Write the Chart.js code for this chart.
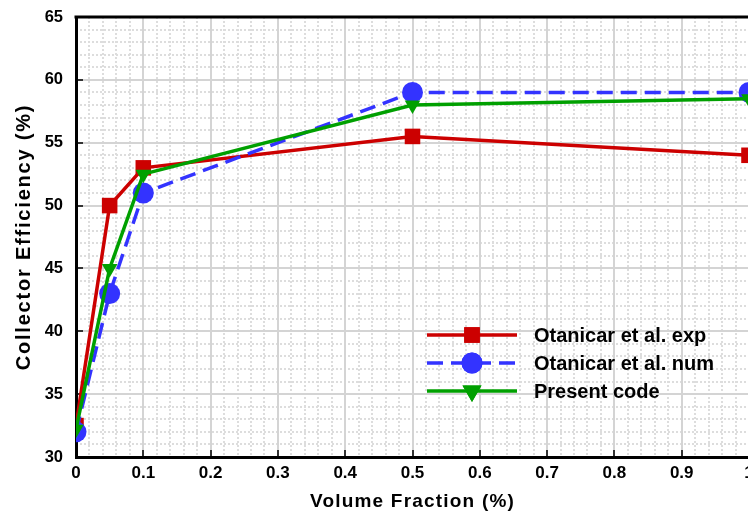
<!DOCTYPE html>
<html>
<head>
<meta charset="utf-8">
<script src="https://cdn.jsdelivr.net/npm/chart.js@4/dist/chart.umd.min.js"></script>
<style>
  html, body { margin: 0; padding: 0; background: #fff; overflow: hidden; }
  #wrap { width: 760px; height: 516px; }
</style>
</head>
<body>
<div id="wrap"><canvas id="effChart" width="760" height="516"></canvas></div>
<script>
// data
const volumeFraction = [0, 0.05, 0.1, 0.5, 1];
const expValues = [32.5, 50, 53, 55.5, 54];
const numValues = [32, 43, 51, 59, 59];
const presentValues = [32.2, 45, 52.5, 58, 58.5];
const xTicks = [0, 0.1, 0.2, 0.3, 0.4, 0.5, 0.6, 0.7, 0.8, 0.9, 1];
const yTicks = [30, 35, 40, 45, 50, 55, 60, 65];

const seriesNames = ["Otanicar et al. exp", "Otanicar et al. num", "Present code"];
const RED = '#cc0000', BLUE = '#3333ff', GREEN = '#00a000';
const FONT = "'Liberation Sans', Arial, sans-serif";

function pts(vals) {
  return volumeFraction.map((x, i) => ({ x: x, y: vals[i] }));
}

// keep the plot box fixed: no extra room for overhanging tick labels
function noOverhang(s) {
  s.paddingTop = 0; s.paddingBottom = 0;
  s.paddingLeft = 0; s.paddingRight = 0;
}

// frame top edge, axis titles and the legend inside the plot
const extras = {
  id: 'extras',
  afterDraw(chart) {
    const ctx = chart.ctx;
    const a = chart.chartArea;
    ctx.save();
    ctx.strokeStyle = '#000';
    ctx.lineWidth = 3;
    ctx.beginPath();
    ctx.moveTo(a.left - 1.5, a.top);
    ctx.lineTo(a.right + 2, a.top);
    ctx.stroke();

    ctx.fillStyle = '#000';
    ctx.textAlign = 'center';
    ctx.textBaseline = 'middle';
    ctx.font = "bold 19px " + FONT;
    ctx.letterSpacing = '1.2px';
    ctx.fillText('Volume Fraction (%)', (a.left + a.right) / 2, 502);
    ctx.save();
    ctx.translate(24, (a.top + a.bottom) / 2);
    ctx.rotate(-Math.PI / 2);
    ctx.font = "bold 20px " + FONT;
    ctx.letterSpacing = '1.8px';
    ctx.fillText('Collector Efficiency (%)', 0, 0);
    ctx.restore();
    ctx.letterSpacing = '0px';
    ctx.restore();
  },
  afterDatasetsDraw(chart) {
    const ctx = chart.ctx;
    const rows = [
      { y: 335, color: RED, dash: [], style: 'rect', r: 11, rot: 0 },
      { y: 363, color: BLUE, dash: [16, 8], style: 'circle', r: 10.5, rot: 0 },
      { y: 391, color: GREEN, dash: [], style: 'triangle', r: 11, rot: 180 }
    ];
    ctx.save();
    rows.forEach((row, i) => {
      ctx.strokeStyle = row.color;
      ctx.lineWidth = 3.5;
      ctx.setLineDash(row.dash);
      ctx.beginPath();
      ctx.moveTo(427, row.y);
      ctx.lineTo(517, row.y);
      ctx.stroke();
      ctx.setLineDash([]);
      ctx.fillStyle = row.color;
      Chart.helpers.drawPoint(ctx, { pointStyle: row.style, radius: row.r, rotation: row.rot, borderWidth: 0 }, 472, row.y);
      ctx.fill();
      ctx.fillStyle = '#000';
      ctx.font = "bold 20px " + FONT;
      ctx.textBaseline = 'middle';
      ctx.textAlign = 'left';
      ctx.fillText(seriesNames[i], 534, row.y + 1);
    });
    ctx.restore();
  }
};

const ctx = document.getElementById('effChart').getContext('2d');
const effChart = new Chart(ctx, {
  type: 'line',
  data: {
    datasets: [
      {
        label: seriesNames[0],
        data: pts(expValues),
        borderColor: RED,
        backgroundColor: RED,
        borderWidth: 3.5,
        pointStyle: 'rect',
        pointRadius: 11,
        pointBorderWidth: 0,
        order: 3
      },
      {
        label: seriesNames[1],
        data: pts(numValues),
        borderColor: BLUE,
        backgroundColor: BLUE,
        borderWidth: 3.5,
        borderDash: [16, 8],
        pointStyle: 'circle',
        pointRadius: 10.5,
        pointBorderWidth: 0,
        order: 2
      },
      {
        label: seriesNames[2],
        data: pts(presentValues),
        borderColor: GREEN,
        backgroundColor: GREEN,
        borderWidth: 3.5,
        pointStyle: 'triangle',
        pointRotation: 180,
        pointRadius: 9,
        pointBorderWidth: 0,
        order: 1
      }
    ]
  },
  options: {
    responsive: false,
    animation: false,
    devicePixelRatio: 1,
    layout: { padding: { left: 0, top: 17, right: 11, bottom: 0 } },
    plugins: {
      legend: { display: false },
      tooltip: { enabled: false }
    },
    scales: {
      xMinor: {
        type: 'linear', position: 'bottom', min: 0, max: 1,
        ticks: { display: false, stepSize: 0.02 },
        grid: { color: '#dddddd', lineWidth: 2, drawTicks: false },
        border: { display: false, dash: [2, 2] },
        afterFit(s) { s.height = 0; noOverhang(s); }
      },
      yMinor: {
        type: 'linear', position: 'left', min: 30, max: 65,
        ticks: { display: false, stepSize: 1 },
        grid: { color: '#dddddd', lineWidth: 2, drawTicks: false },
        border: { display: false, dash: [2, 2] },
        afterFit(s) { s.width = 0; noOverhang(s); }
      },
      x: {
        type: 'linear', position: 'bottom', min: 0, max: 1,
        afterBuildTicks(s) { s.ticks = xTicks.map(v => ({ value: v })); },
        ticks: {
          color: '#000', padding: 13,
          font: { family: FONT, size: 17, weight: 'bold' },
          callback: v => String(v)
        },
        grid: { color: '#d4d4d4', lineWidth: 2, drawTicks: true, tickLength: -7, tickColor: '#333', tickWidth: 2 },
        border: { color: '#000', width: 3 },
        afterFit(s) { s.height = 59; noOverhang(s); }
      },
      y: {
        type: 'linear', position: 'left', min: 30, max: 65,
        afterBuildTicks(s) { s.ticks = yTicks.map(v => ({ value: v })); },
        ticks: {
          color: '#000', padding: 20,
          font: { family: FONT, size: 16.5, weight: 'bold' }
        },
        grid: { color: '#d4d4d4', lineWidth: 2, drawTicks: true, tickLength: -7, tickColor: '#333', tickWidth: 2 },
        border: { color: '#000', width: 3 },
        afterFit(s) { s.width = 76; noOverhang(s); }
      }
    }
  },
  plugins: [extras]
});
</script>
</body>
</html>
